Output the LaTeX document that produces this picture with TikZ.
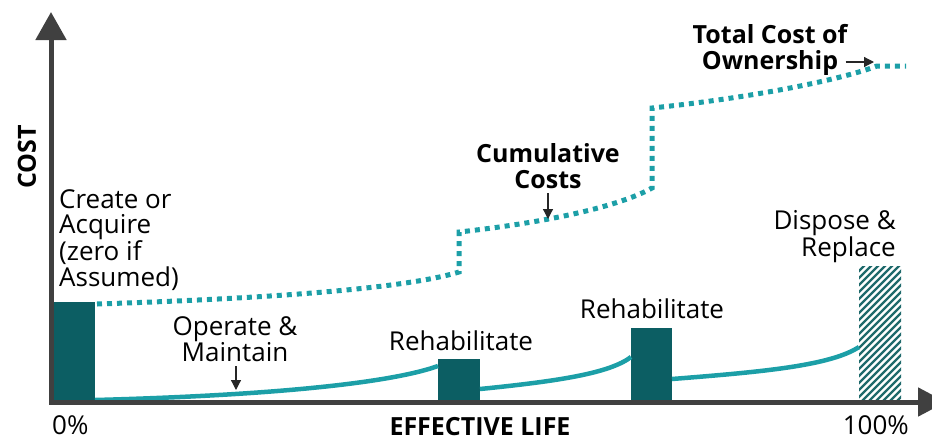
\documentclass[tikz,border=0pt]{standalone}
\usepackage{fontspec}
\setmainfont{Open Sans}
\usetikzlibrary{arrows.meta,calc}
\definecolor{axisgray}{HTML}{404040}
\definecolor{boxteal}{HTML}{0C5E63}
\definecolor{curveteal}{HTML}{1C9FA7}
\definecolor{hatchteal}{HTML}{1F6A6C}
\tikzset{
  axis/.style={draw=axisgray, line width=5pt, -{Triangle[width=30pt,length=28pt]}},
  costbox/.style={fill=boxteal, draw=none, inner sep=0pt, anchor=south west},
  solidcurve/.style={draw=curveteal, line width=4.5pt},
  dotcurve/.style={draw=curveteal, line width=5pt, dash pattern=on 5pt off 5pt},
  lbl/.style={font=\fontsize{26}{25.3}\selectfont, inner sep=0pt, text=black},
  blbl/.style={font=\fontsize{25}{26.5}\selectfont\bfseries, inner sep=0pt, text=black},
  pointer/.style={draw=black!85, line width=1.2pt, -{Triangle[width=10pt,length=10pt]}},
}
\begin{document}
\begin{tikzpicture}[x=1pt,y=-1pt]
\useasboundingbox (0,0) rectangle (932,440);
% axes
\coordinate (origin) at (51,404);
\coordinate (ytop) at (51,12);
\coordinate (xstart) at (49,402);
\coordinate (xend) at (946,402);
% boxes
\node[costbox, minimum width=44pt, minimum height=100pt] (create) at (51,402) {};
\node[costbox, minimum width=42pt, minimum height=43pt] (rehab1) at (438,402) {};
\node[costbox, minimum width=41pt, minimum height=74pt] (rehab2) at (631,402) {};
\coordinate (dispSW) at (859,402);
\coordinate (dispNE) at (901,266);
\begin{scope}
  \clip (dispSW) rectangle (dispNE);
  \foreach \k in {-22,...,7}
    \draw[hatchteal, line width=2.3pt] ({859+\k*7},404) -- ++(150,-150);
\end{scope}
% solid curve (operate & maintain)
\coordinate (s1a) at (95,400);
\coordinate (s1b) at (438,366);
\coordinate (s2a) at (480,389);
\coordinate (s2b) at (631,357);
\coordinate (s3a) at (672,379);
\coordinate (s3b) at (859,347);
\draw[solidcurve] (s1a) .. controls (250,396) and (385,385) .. (s1b);
\draw[solidcurve] (s2a) .. controls (560,381) and (610,373) .. (s2b);
\draw[solidcurve] (s3a) .. controls (760,372) and (830,366) .. (s3b);
% dotted cumulative curve
\coordinate (d0) at (97,304);
\coordinate (d1) at (459,272);
\coordinate (d2) at (459,232);
\coordinate (d3) at (652,188);
\coordinate (d4) at (652,108);
\coordinate (d5) at (877,66);
\coordinate (d6) at (906,66);
\draw[dotcurve] (d0) .. controls (250,299) and (400,290) .. (d1) -- (d2)
  .. controls (550,222) and (620,206) .. (d3) -- (d4)
  .. controls (750,98) and (840,80) .. (d5) -- (d6);
% axes on top
\draw[axis] (origin) -- (ytop);
\draw[axis, -{Triangle[width=28pt,length=28pt]}] (xstart) -- (xend);
% labels
\node[blbl, rotate=90] (cost) at (27,157) {COST};
\node[blbl, anchor=base] (efflife) at (480,435) {EFFECTIVE LIFE};
\node[lbl, anchor=base west] (zero) at (52,434) {0\%};
\node[lbl, anchor=base east] (hundred) at (909,434) {100\%};
\node[lbl, anchor=north west, align=left] (createlbl) at (59,189.5) {Create or\\Acquire\\(zero if\\Assumed)};
\node[lbl, anchor=north, align=center] (opm) at (235,316.5) {Operate \&\\Maintain};
\node[lbl, anchor=base] (rehablbl1) at (461,350) {Rehabilitate};
\node[lbl, anchor=base] (rehablbl2) at (652,318) {Rehabilitate};
\node[lbl, anchor=north east, align=right] (displbl) at (896,210) {Dispose \&\\Replace};
\node[blbl, anchor=north, align=center] (cumlbl) at (548,143) {Cumulative\\Costs};
\node[blbl, anchor=north, align=center] (tcolbl) at (770,24) {Total Cost of\\Ownership};
% pointers
\coordinate (opmtip) at (236,390);
\coordinate (cumtip) at (548,219);
\coordinate (tcotip) at (874,62);
\draw[pointer] (opm.south -| opmtip) ++(0,4) -- (opmtip);
\draw[pointer] (cumlbl.south) ++(0,4) -- (cumtip);
\draw[pointer] ($(tcotip -| tcolbl.east)+(-2,0)$) -- (tcotip);
\end{tikzpicture}
\end{document}
